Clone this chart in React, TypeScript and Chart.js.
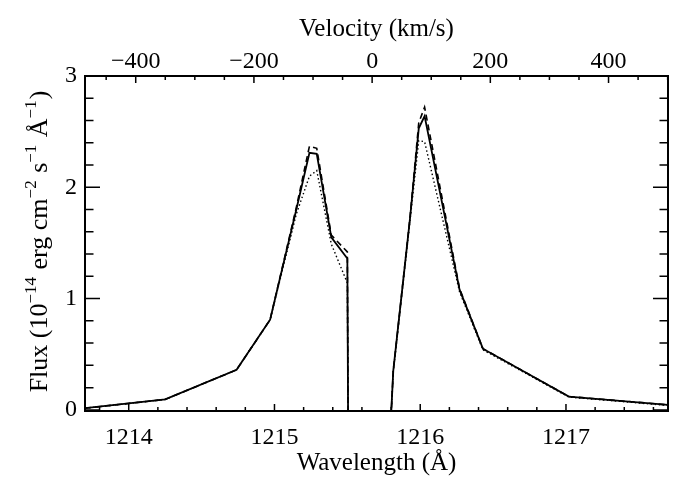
import { useEffect, useRef } from "react"
import Chart from "chart.js/auto"

// Lyman-alpha profile, flux in 10^-14 erg cm^-2 s^-1 A^-1
const WAVELENGTH = [
  1213.7, 1214.25, 1214.74, 1214.97, 1215.15, 1215.24, 1215.29, 1215.39, 1215.5, 1215.505,
  1215.8, 1215.815, 1215.93, 1215.99, 1216.03, 1216.27, 1216.43, 1217.02, 1217.7,
]
const FLUX_SOLID = [
  0.015, 0.094, 0.36, 0.81, 1.8, 2.31, 2.3, 1.55, 1.36, -0.05,
  -0.05, 0.35, 1.72, 2.53, 2.64, 1.08, 0.55, 0.12, 0.045,
]
const FLUX_DASHED = [
  0.015, 0.094, 0.36, 0.81, 1.82, 2.37, 2.35, 1.57, 1.42, -0.05,
  -0.05, 0.35, 1.73, 2.58, 2.72, 1.09, 0.55, 0.12, 0.045,
]
const FLUX_DOTTED = [
  0.015, 0.094, 0.36, 0.81, 1.76, 2.1, 2.15, 1.49, 1.14, -0.05,
  -0.05, 0.34, 1.7, 2.42, 2.41, 1.06, 0.54, 0.115, 0.04,
]

const WAVE_TICKS = [1214, 1215, 1216, 1217]
const VEL_TICKS = [-400, -200, 0, 200, 400]
const FLUX_TICKS = [0, 1, 2, 3]

const LYA = 1215.67
const C_KMS = 299792.458
const WAVE_MIN = 1213.7
const WAVE_MAX = 1217.7
const FLUX_MIN = -0.01
const FLUX_MAX = 3
const toVel = (w: number) => (w / LYA - 1) * C_KMS

const FONT = "'Liberation Serif', 'Times New Roman', serif"

const points = (ys: number[]) => WAVELENGTH.map((x, i) => ({ x, y: ys[i] }))

// IDL style frame: inward ticks on all four sides plus the axis titles
const framePlugin = {
  id: "frame",
  afterDraw(chart: any) {
    const { ctx, chartArea: a, scales } = chart
    const sx = scales.x
    const sx2 = scales.x2
    const sy = scales.y
    ctx.save()
    ctx.strokeStyle = "#000"
    ctx.lineWidth = 1.5
    ctx.beginPath()
    const bottomTick = (px: number, len: number) => {
      ctx.moveTo(px, a.bottom)
      ctx.lineTo(px, a.bottom - len)
    }
    const topTick = (px: number, len: number) => {
      ctx.moveTo(px, a.top)
      ctx.lineTo(px, a.top + len)
    }
    const sideTicks = (py: number, len: number) => {
      ctx.moveTo(a.left, py)
      ctx.lineTo(a.left + len, py)
      ctx.moveTo(a.right, py)
      ctx.lineTo(a.right - len, py)
    }
    for (let i = 0; i < 20; i++) bottomTick(sx.getPixelForValue(1213.8 + i * 0.2), 4)
    WAVE_TICKS.forEach((w) => bottomTick(sx.getPixelForValue(w), 7))
    for (let v = -450; v <= 500; v += 50) topTick(sx2.getPixelForValue(v), 4)
    VEL_TICKS.forEach((v) => topTick(sx2.getPixelForValue(v), 7))
    for (let i = 1; i < 15; i++) sideTicks(sy.getPixelForValue(i * 0.2), 8.5)
    FLUX_TICKS.forEach((f) => sideTicks(sy.getPixelForValue(f), 15))
    ctx.stroke()

    ctx.fillStyle = "#000"
    ctx.font = `25px ${FONT}`
    ctx.textAlign = "center"
    ctx.textBaseline = "alphabetic"
    const cx = (a.left + a.right) / 2
    ctx.fillText("Velocity (km/s)", cx, 36)
    ctx.fillText("Wavelength (Å)", cx, 470)

    // rotated y title with superscripts
    const parts: [string, boolean][] = [
      ["Flux (10", false],
      ["−14", true],
      [" erg cm", false],
      ["−2", true],
      [" s", false],
      ["−1", true],
      [" Å", false],
      ["−1", true],
      [")", false],
    ]
    const big = `26px ${FONT}`
    const small = `17px ${FONT}`
    let total = 0
    parts.forEach(([t, sup]) => {
      ctx.font = sup ? small : big
      total += ctx.measureText(t).width
    })
    ctx.translate(47, (a.top + a.bottom) / 2)
    ctx.rotate(-Math.PI / 2)
    ctx.textAlign = "left"
    let pos = -total / 2
    parts.forEach(([t, sup]) => {
      ctx.font = sup ? small : big
      ctx.fillText(t, pos, sup ? -11 : 0)
      pos += ctx.measureText(t).width + (sup ? 1 : 0)
    })
    ctx.restore()
  },
}

const tickFont = { family: FONT, size: 24 }
const border = { display: true, color: "#000", width: 2 }
const grid = { display: false, tickLength: 0, drawTicks: false }

const App = () => {
  const canvasRef = useRef<HTMLCanvasElement>(null)
  const chartRef = useRef<Chart | null>(null)

  useEffect(() => {
    document.body.style.margin = "0"
    if (!canvasRef.current) return
    if (chartRef.current) chartRef.current.destroy()

    const line = (data: number[], dash: number[], width: number) => ({
      data: points(data),
      borderColor: "#000",
      borderWidth: width,
      borderDash: dash,
      pointRadius: 0,
      tension: 0,
      clip: 0,
      xAxisID: "x",
      yAxisID: "y",
    })

    chartRef.current = new Chart(canvasRef.current, {
      type: "line",
      data: {
        datasets: [
          line(FLUX_DOTTED, [1.5, 2.5], 1.4),
          line(FLUX_DASHED, [6, 4], 1.6),
          line(FLUX_SOLID, [], 1.8),
        ],
      },
      options: {
        animation: false,
        responsive: true,
        maintainAspectRatio: false,
        layout: { padding: 0 },
        plugins: { legend: { display: false }, tooltip: { enabled: false } },
        scales: {
          x: {
            type: "linear",
            position: "bottom",
            min: WAVE_MIN,
            max: WAVE_MAX,
            grid,
            border,
            ticks: { font: tickFont, color: "#000", padding: 12, maxRotation: 0, autoSkip: false, callback: (v: any) => String(v) },
            afterBuildTicks: (s: any) => {
              s.ticks = WAVE_TICKS.map((value) => ({ value }))
            },
            afterFit: (s: any) => {
              s.height = 79
            },
          },
          x2: {
            type: "linear",
            position: "top",
            min: toVel(WAVE_MIN),
            max: toVel(WAVE_MAX),
            grid,
            border,
            ticks: {
              font: tickFont,
              color: "#000",
              padding: 0,
              maxRotation: 0,
              autoSkip: false,
              callback: (v: any) => String(v).replace("-", "−"),
            },
            afterBuildTicks: (s: any) => {
              s.ticks = VEL_TICKS.map((value) => ({ value }))
            },
            afterFit: (s: any) => {
              s.height = 76
            },
          },
          y: {
            type: "linear",
            position: "left",
            min: FLUX_MIN,
            max: FLUX_MAX,
            grid,
            border,
            ticks: { font: tickFont, color: "#000", padding: 8, autoSkip: false, callback: (v: any) => String(v) },
            afterBuildTicks: (s: any) => {
              s.ticks = FLUX_TICKS.map((value) => ({ value }))
            },
            afterFit: (s: any) => {
              s.width = 85
            },
          },
          y2: {
            type: "linear",
            position: "right",
            min: FLUX_MIN,
            max: FLUX_MAX,
            grid,
            border,
            ticks: { display: false },
            afterFit: (s: any) => {
              s.width = 29
            },
          },
        },
      },
      plugins: [framePlugin],
    } as any)

    return () => {
      if (chartRef.current) {
        chartRef.current.destroy()
        chartRef.current = null
      }
    }
  }, [])

  return (
    <div style={{ width: 697, height: 490, position: "relative" }}>
      <canvas ref={canvasRef} />
    </div>
  )
}

export default App
